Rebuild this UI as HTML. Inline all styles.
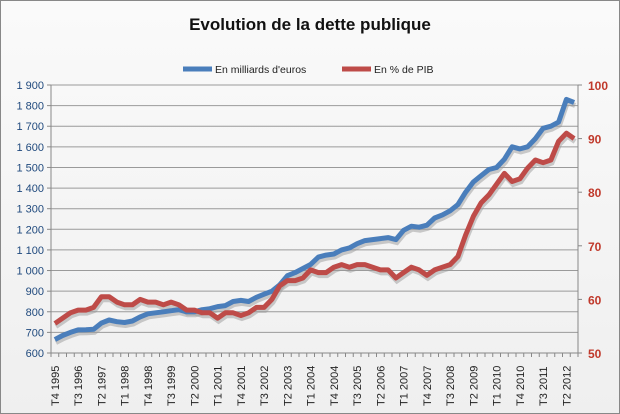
<!DOCTYPE html>
<html><head><meta charset="utf-8"><style>
body{margin:0;background:#fff}
svg{display:block;font-family:"Liberation Sans",sans-serif}
</style></head><body>
<svg id="c" width="620" height="414" xmlns="http://www.w3.org/2000/svg">
<defs><linearGradient id="bg" x1="0" y1="0" x2="0" y2="1"><stop offset="0" stop-color="#fafafa"/><stop offset="1" stop-color="#efefef"/></linearGradient></defs>
<rect x="0.5" y="0.5" width="619" height="413" fill="url(#bg)" stroke="#888"/>
<text x="310" y="30" text-anchor="middle" font-size="17" font-weight="bold" fill="#111">Evolution  de la dette publique</text>
<line x1="183" y1="69" x2="212" y2="69" stroke="#4a7ebb" stroke-width="5"/>
<text x="215" y="73" font-size="10.5" fill="#222">En milliards d'euros</text>
<line x1="342" y1="69" x2="371" y2="69" stroke="#be4b48" stroke-width="5"/>
<text x="374" y="73" font-size="10.5" fill="#222">En % de PIB</text>
<g id="g"></g>
</svg>
<script>
var g=document.getElementById('g'),s='';
var L=51,R=578,T=85,B=353;
function yb(v){return B-(v-600)/1300*(B-T);}
function yr(v){return B-(v-50)/50*(B-T);}
for(var v=600;v<=1900;v+=100){var y=yb(v);
 if(v>600)s+='<line x1="'+L+'" y1="'+y+'" x2="'+R+'" y2="'+y+'" stroke="#9a9a9a" stroke-width="1"/>';
 s+='<line x1="'+(L-4)+'" y1="'+y+'" x2="'+L+'" y2="'+y+'" stroke="#888"/>';
 var t=v>=1000?(Math.floor(v/1000)+' '+String(v%1000).padStart(3,'0')):v;
 s+='<text x="'+(L-7)+'" y="'+(y+4)+'" text-anchor="end" font-size="11" fill="#1f497d">'+t+'</text>';}
for(var v=50;v<=100;v+=10){var y=yr(v);
 s+='<line x1="'+R+'" y1="'+y+'" x2="'+(R+4)+'" y2="'+y+'" stroke="#888"/>';
 s+='<text x="'+(R+10)+'" y="'+(y+5)+'" font-size="12" font-weight="bold" fill="#c0392b">'+v+'</text>';}
s+='<line x1="'+L+'" y1="'+T+'" x2="'+L+'" y2="'+B+'" stroke="#888"/>';
s+='<line x1="'+R+'" y1="'+T+'" x2="'+R+'" y2="'+B+'" stroke="#888"/>';
s+='<line x1="'+L+'" y1="'+B+'" x2="'+R+'" y2="'+B+'" stroke="#888"/>';
var N=68,dx=(R-L)/N;
for(var i=0;i<=N;i++){var x=L+i*dx;s+='<line x1="'+x+'" y1="'+B+'" x2="'+x+'" y2="'+(B+4)+'" stroke="#888"/>';}
var labs=[];var q=4,yr0=1995;
for(var i=0;i<N;i++){ if(i%3==0){var x=L+(i+0.5)*dx;
 s+='<text transform="translate('+(x+4)+',406) rotate(-90)" font-size="11" fill="#222">T'+q+' '+yr0+'</text>';}
 q++;if(q>4){q=1;yr0++;}}
var blue=[665,685,700,712,713,715,745,760,752,748,755,775,790,795,800,805,810,800,800,810,815,825,830,850,855,850,870,885,900,930,975,990,1010,1030,1065,1075,1080,1100,1110,1130,1145,1150,1155,1160,1150,1195,1215,1210,1220,1255,1270,1290,1320,1380,1430,1460,1490,1500,1540,1600,1590,1600,1640,1690,1700,1720,1830,1815];
var red=[55.5,56.5,57.5,58,58,58.5,60.5,60.5,59.5,59,59,60,59.5,59.5,59,59.5,59,58,58,57.5,57.5,56.5,57.5,57.5,57,57.5,58.5,58.5,60,62.5,63.5,63.5,64,65.5,65,65,66,66.5,66,66.5,66.5,66,65.5,65.5,64,65,66,65.5,64.5,65.5,66,66.5,68,72,75.5,78,79.5,81.5,83.5,82,82.5,84.5,86,85.5,86,89.5,91,90];
function path(a,f){return a.map(function(v,i){return (i?'L':'M')+(L+(i+0.5)*dx).toFixed(1)+','+f(v).toFixed(1);}).join('');}
var pb=path(blue,yb),pr=path(red,yr);
s+='<path d="'+pb+'" fill="none" stroke="#999" stroke-width="5" opacity=".5" transform="translate(1,3)"/>';
s+='<path d="'+pr+'" fill="none" stroke="#999" stroke-width="5" opacity=".5" transform="translate(1,3)"/>';
s+='<path d="'+pb+'" fill="none" stroke="#4a7ebb" stroke-width="5" stroke-linejoin="round"/>';
s+='<path d="'+pr+'" fill="none" stroke="#be4b48" stroke-width="5" stroke-linejoin="round"/>';
g.innerHTML=s;
</script>
</body></html>
